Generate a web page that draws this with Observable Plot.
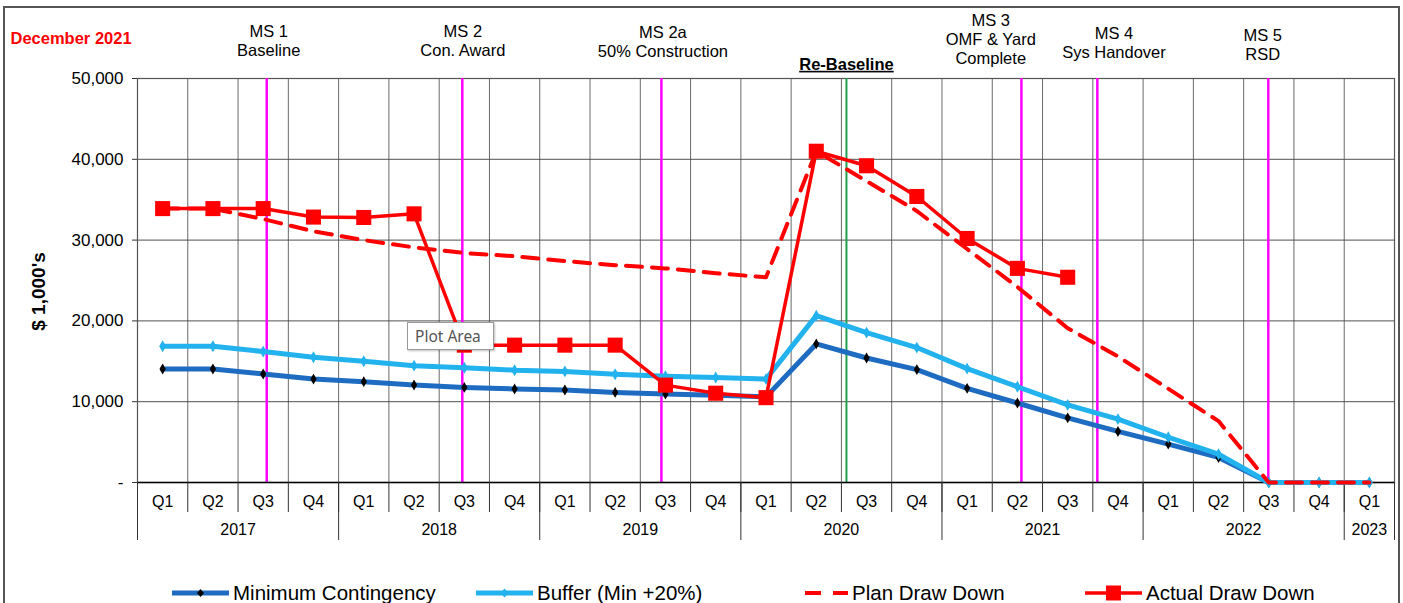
<!DOCTYPE html>
<html>
<head>
<meta charset="utf-8">
<script src="https://cdn.jsdelivr.net/npm/d3@7"></script>
<script src="https://cdn.jsdelivr.net/npm/@observablehq/plot@0.6"></script>
<style>
  html, body { margin: 0; padding: 0; background: #fff; }
  body { width: 1403px; height: 603px; position: relative; overflow: hidden; font-family: "Liberation Sans", Arial, sans-serif; }
  #chart { position: absolute; left: 0; top: 0; }
  .outer { position: absolute; left: 3px; top: 6px; width: 1397px; height: 660px; border: 2px solid #555; box-sizing: border-box; pointer-events: none; }
  .rebase text { text-decoration: underline; }
  #legend { position: absolute; left: 0; top: 578px; width: 1403px; height: 30px; }
  .item { position: absolute; top: 0; height: 30px; display: flex; align-items: center; font-size: 20.5px; color: #000; white-space: nowrap; }
  .item svg { margin-right: 4px; }
  .tip { position: absolute; left: 407px; top: 322px; width: 87px; height: 28px; box-sizing: border-box; border: 1px solid #9a9a9a; background: #fff; color: #555; font-family: "Noto Sans", sans-serif; font-size: 15.5px; line-height: 26px; padding-left: 7px; box-shadow: 1px 1px 2px rgba(0,0,0,0.25); }
</style>
</head>
<body>
<div id="chart"></div>
<div id="legend"></div>
<div class="tip">Plot Area</div>
<div class="outer"></div>
<script>
// ---- data ----
const quarterLabels = ["Q1","Q2","Q3","Q4","Q1","Q2","Q3","Q4","Q1","Q2","Q3","Q4","Q1","Q2","Q3","Q4","Q1","Q2","Q3","Q4","Q1","Q2","Q3","Q4","Q1"];
const yearLabels = ["2017","2018","2019","2020","2021","2022","2023"];
const yearStart = [0, 4, 8, 12, 16, 20, 24];
const yearQuarters = [4, 4, 4, 4, 4, 4, 1];
const minContingency = [14050, 14050, 13430, 12800, 12480, 12070, 11770, 11570, 11450, 11150, 10950, 10800, 10600, 17150, 15410, 13970, 11650, 9840, 8000, 6320, 4750, 3100, 0, 0, 0];
const bufferMin20 = [16860, 16860, 16200, 15500, 15000, 14460, 14200, 13900, 13750, 13400, 13150, 13000, 12800, 20650, 18550, 16700, 14100, 11850, 9600, 7850, 5600, 3500, 0, 0, 0];
const planDrawDown = [33900, 33900, 32600, 31100, 30000, 29100, 28400, 28000, 27400, 26900, 26500, 25900, 25400, 41000, 37300, 33600, 28900, 24200, 19100, 15600, 11600, 7600, 0, 0, 0];
const actualDrawDown = [33900, 33900, 33900, 32850, 32800, 33250, 17000, 17000, 17000, 17000, 12050, 11050, 10500, 41000, 39200, 35400, 30200, 26500, 25400, null, null, null, null, null, null];
const yTicks = [0, 10000, 20000, 30000, 40000, 50000];
// milestone positions in quarters since 2017 Q1 start
const milestoneNames = ["MS 1\nBaseline", "MS 2\nCon. Award", "MS 2a\n50% Construction", "MS 3\nOMF & Yard\nComplete", "MS 4\nSys Handover", "MS 5\nRSD"];
const milestoneAt = [2.57, 6.46, 10.42, 17.58, 19.09, 22.49];
const milestoneLabelAt = [2.61, 6.47, 10.45, 16.97, 19.42, 22.38];
const rebaselineName = "Re-Baseline";
const rebaselineAt = 14.1;
const seriesNames = ["Minimum Contingency", "Buffer (Min +20%)", "Plan Draw Down", "Actual Draw Down"];

// ---- styling / layout ----
const C = { min: "#1d6cc1", buf: "#22b2ee", red: "#ff0000", mag: "#ff00ff", green: "#1fa04f" };
const labelCenterY = [39.5, 39.5, 40.5, 38.5, 42, 44]; // px from top of svg
const frameTop = 78;

const toRows = (arr) => arr.map((v, i) => ({ x: i + 0.5, v })).filter(d => d.v !== null);
const minRows = toRows(minContingency);
const bufRows = toRows(bufferMin20);
const planRows = toRows(planDrawDown);
const actRows = toRows(actualDrawDown);

const font = "Liberation Sans, Arial, sans-serif";

const milestoneTextMarks = milestoneNames.map((t, i) =>
  Plot.text([t], {
    x: () => milestoneLabelAt[i], text: d => d, frameAnchor: "top",
    dy: labelCenterY[i] - frameTop, lineAnchor: "middle", lineHeight: 1.17,
    fontSize: 16.5, fill: "#000", fontFamily: font
  })
);

const chart = Plot.plot({
  width: 1403,
  height: 603,
  marginLeft: 137,
  marginRight: 9,
  marginTop: frameTop,
  marginBottom: 121,
  style: { fontFamily: font, background: "transparent", overflow: "visible" },
  x: { type: "linear", domain: [0, 25] },
  y: { domain: [0, 50000] },
  marks: [
    Plot.gridY(yTicks.filter(d => d > 0), { stroke: "#333", strokeOpacity: 0.85, strokeWidth: 1 }),
    Plot.gridX(d3.range(1, 25), { stroke: "#444", strokeOpacity: 0.8, strokeWidth: 1 }),
    Plot.frame({ stroke: "#555", strokeWidth: 1.2 }),
    Plot.ruleX(milestoneAt, { stroke: C.mag, strokeWidth: 2.5 }),
    Plot.ruleX([rebaselineAt], { stroke: C.green, strokeWidth: 2 }),
    Plot.ruleY([0], { stroke: "#000", strokeWidth: 1.5 }),
    // y axis
    Plot.axisY(yTicks, {
      tickSize: 5, tickPadding: 9, fontSize: 17, label: null,
      tickFormat: d => d === 0 ? "-" : d3.format(",")(d), stroke: "#333"
    }),
    // x axis: quarter separators, year separators, labels
    Plot.axisX(d3.range(0, 26), { tickSize: 30, tickFormat: () => "", label: null, stroke: "#333" }),
    Plot.axisX(yearStart.concat([25]), { tickSize: 58, tickFormat: () => "", label: null, stroke: "#333" }),
    Plot.axisX(d3.range(25).map(i => i + 0.5), {
      tickSize: 0, tickPadding: 13, fontSize: 16, label: null,
      tickFormat: d => quarterLabels[Math.floor(d)]
    }),
    Plot.axisX(yearStart.map((s, i) => s + yearQuarters[i] / 2), {
      tickSize: 0, tickPadding: 41, fontSize: 16, label: null,
      tickFormat: d => yearLabels[yearStart.findIndex((s, i) => s + yearQuarters[i] / 2 === d)]
    }),
    // series
    Plot.line(minRows, { x: "x", y: "v", stroke: C.min, strokeWidth: 5 }),
    Plot.dot(minRows, { x: "x", y: "v", symbol: "diamond", r: 3.3, fill: "#000" }),
    Plot.line(bufRows, { x: "x", y: "v", stroke: C.buf, strokeWidth: 5 }),
    Plot.dot(bufRows, { x: "x", y: "v", symbol: "diamond", r: 3.6, fill: C.buf }),
    Plot.line(planRows, { x: "x", y: "v", stroke: C.red, strokeWidth: 4, strokeDasharray: "16,10" }),
    Plot.line(actRows, { x: "x", y: "v", stroke: C.red, strokeWidth: 3.5 }),
    Plot.dot(actRows, { x: "x", y: "v", symbol: "square", r: 8.5, fill: C.red }),
    // texts
    Plot.text(["December 2021"], {
      frameAnchor: "top-left", dx: 10 - 137, dy: 38 - frameTop, textAnchor: "start", lineAnchor: "middle",
      fill: "#ff0000", fontWeight: "bold", fontSize: 16.5, fontFamily: font
    }),
    Plot.text(["$ 1,000's"], {
      frameAnchor: "left", dx: 38 - 137, dy: 11, rotate: -90, textAnchor: "middle", lineAnchor: "middle",
      fontWeight: "bold", fontSize: 19, fill: "#000", fontFamily: font
    }),
    ...milestoneTextMarks,
    Plot.text([rebaselineName], {
      x: () => rebaselineAt, frameAnchor: "top", dy: 64 - frameTop, lineAnchor: "middle",
      fontWeight: "bold", fontSize: 16.5, fill: "#000", className: "rebase", fontFamily: font
    })
  ]
});
document.getElementById("chart").appendChild(chart);

// ---- legend ----
const legendX = [172, 476, 791, 1085];
const legend = document.getElementById("legend");
function swatch(i) {
  const w = 57, h = 20, cy = 10;
  let s = `<svg width="${w}" height="${h}" viewBox="0 0 ${w} ${h}">`;
  if (i === 0) s += `<line x1="0" x2="${w}" y1="${cy}" y2="${cy}" stroke="${C.min}" stroke-width="5"/><path d="M${w/2} ${cy-4}L${w/2+3.5} ${cy}L${w/2} ${cy+4}L${w/2-3.5} ${cy}Z" fill="#000"/>`;
  if (i === 1) s += `<line x1="0" x2="${w}" y1="${cy}" y2="${cy}" stroke="${C.buf}" stroke-width="5"/><path d="M${w/2} ${cy-4.5}L${w/2+4} ${cy}L${w/2} ${cy+4.5}L${w/2-4} ${cy}Z" fill="${C.buf}"/>`;
  if (i === 2) s += `<line x1="14" x2="${w}" y1="${cy}" y2="${cy}" stroke="${C.red}" stroke-width="4" stroke-dasharray="16,12"/>`;
  if (i === 3) s += `<line x1="0" x2="${w}" y1="${cy}" y2="${cy}" stroke="${C.red}" stroke-width="3.5"/><rect x="${w/2-7.5}" y="${cy-7.5}" width="15" height="15" fill="${C.red}"/>`;
  return s + `</svg>`;
}
seriesNames.forEach((name, i) => {
  const el = document.createElement("div");
  el.className = "item";
  el.style.left = legendX[i] + "px";
  el.innerHTML = swatch(i) + `<span>${name}</span>`;
  legend.appendChild(el);
});
</script>
</body>
</html>
